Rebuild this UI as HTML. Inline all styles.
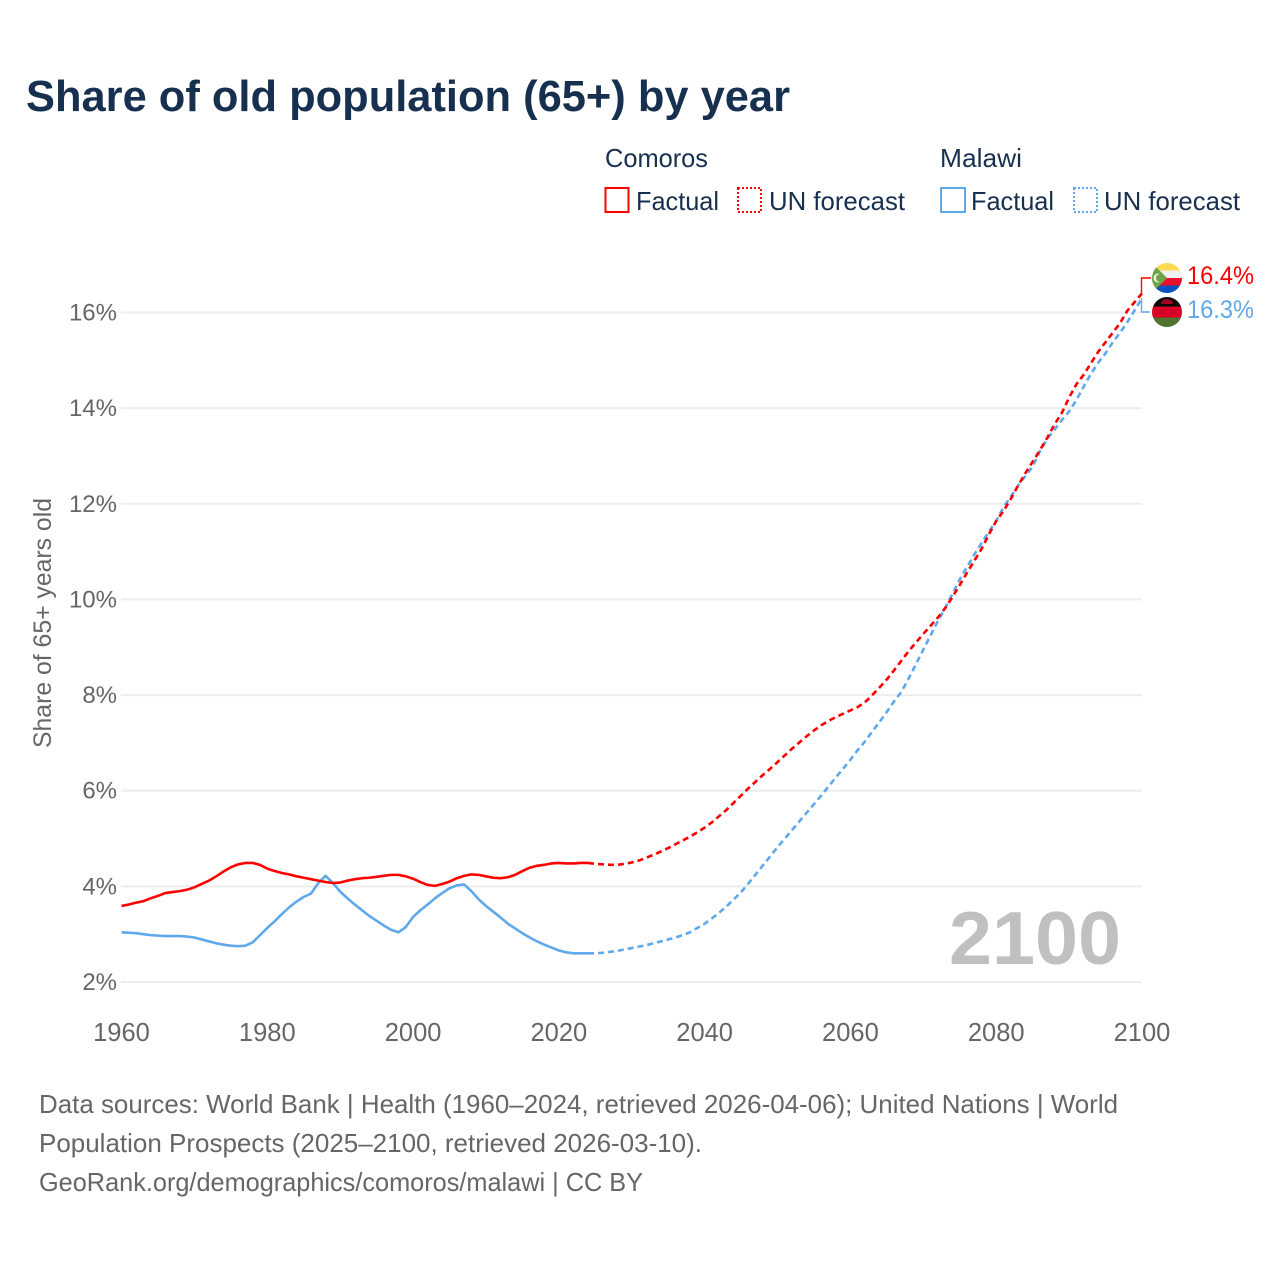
<!DOCTYPE html>
<html lang="en">
<head>
<meta charset="utf-8">
<title>Share of old population (65+) by year</title>
<style>
html,body{margin:0;padding:0;background:#fff;}
svg{display:block;font-family:"Liberation Sans",Arial,sans-serif;}
</style>
</head>
<body>
<svg id="chart" width="1280" height="1280" viewBox="0 0 1280 1280" xmlns="http://www.w3.org/2000/svg">
<rect x="0" y="0" width="1280" height="1280" fill="#fff"/>
<text x="26" y="111" font-size="44" font-weight="700" fill="#18304f" textLength="764" lengthAdjust="spacingAndGlyphs">Share of old population (65+) by year</text>

<g id="grid"></g>
<g id="yticks"></g>
<g id="xticks"></g>

<text transform="translate(51,748) rotate(-90)" font-size="25" fill="#666" textLength="250" lengthAdjust="spacingAndGlyphs">Share of 65+ years old</text>
<text x="949" y="964" font-size="75" font-weight="700" fill="#c0c0c0" textLength="172" lengthAdjust="spacingAndGlyphs">2100</text>

<g id="series"></g>

<g>
<text x="605" y="167" font-size="26" fill="#18304f" textLength="103" lengthAdjust="spacingAndGlyphs">Comoros</text>
<rect x="605.5" y="188" width="23" height="24" fill="none" stroke="#ff0000" stroke-width="2"/>
<text x="636" y="210" font-size="26" fill="#18304f" textLength="83" lengthAdjust="spacingAndGlyphs">Factual</text>
<rect x="738" y="188" width="23" height="24" fill="none" stroke="#ff0000" stroke-width="2" stroke-dasharray="2 2"/>
<text x="769" y="210" font-size="26" fill="#18304f" textLength="136" lengthAdjust="spacingAndGlyphs">UN forecast</text>
<text x="940" y="167" font-size="26" fill="#18304f" textLength="82" lengthAdjust="spacingAndGlyphs">Malawi</text>
<rect x="941" y="188" width="24" height="24" fill="none" stroke="#5fa8ec" stroke-width="2"/>
<text x="971" y="210" font-size="26" fill="#18304f" textLength="83" lengthAdjust="spacingAndGlyphs">Factual</text>
<rect x="1074" y="188" width="23" height="24" fill="none" stroke="#5fa8ec" stroke-width="2" stroke-dasharray="2 2"/>
<text x="1104" y="210" font-size="26" fill="#18304f" textLength="136" lengthAdjust="spacingAndGlyphs">UN forecast</text>
</g>

<defs>
<clipPath id="clip-km"><circle cx="1167" cy="278" r="15"/></clipPath>
<clipPath id="clip-mw"><circle cx="1167" cy="312" r="15"/></clipPath>
</defs>
<g clip-path="url(#clip-km)">
<rect x="1152" y="263" width="30" height="8" fill="#ffd94f"/>
<rect x="1152" y="270.5" width="30" height="7.5" fill="#f0f0f0"/>
<rect x="1152" y="278" width="30" height="7.5" fill="#e8112d"/>
<rect x="1152" y="285.5" width="30" height="7.5" fill="#0b52c0"/>
<polygon points="1152,263 1167,278 1152,293" fill="#6da544"/>
<circle cx="1158" cy="278" r="4.5" fill="#f0f0f0"/>
<circle cx="1160" cy="278" r="4" fill="#6da544"/>
</g>
<g clip-path="url(#clip-mw)">
<rect x="1152" y="297" width="30" height="9.5" fill="#0a0a0a"/>
<rect x="1152" y="306.5" width="30" height="11" fill="#d80027"/>
<rect x="1152" y="317.5" width="30" height="10" fill="#4f7331"/>
<path d="M1161,304 a6,5 0 0 1 12,0 z" fill="#a2001d"/>
</g>
<path d="M1141.5,293 V278 H1151" fill="none" stroke="#ff0000" stroke-width="1.4"/>
<path d="M1141.5,298 V312 H1150" fill="none" stroke="#5fa8ec" stroke-width="1.4"/>
<text x="1187" y="284" font-size="25" fill="#ff0000" textLength="67" lengthAdjust="spacingAndGlyphs">16.4%</text>
<text x="1187" y="318" font-size="25" fill="#5fa8ec" textLength="67" lengthAdjust="spacingAndGlyphs">16.3%</text>

<g>
<text x="39" y="1113" font-size="26" fill="#666" textLength="1079" lengthAdjust="spacingAndGlyphs">Data sources: World Bank | Health (1960–2024, retrieved 2026-04-06); United Nations | World</text>
<text x="39" y="1152" font-size="26" fill="#666" textLength="663" lengthAdjust="spacingAndGlyphs">Population Prospects (2025–2100, retrieved 2026-03-10).</text>
<text x="39" y="1191" font-size="26" fill="#666" textLength="604" lengthAdjust="spacingAndGlyphs">GeoRank.org/demographics/comoros/malawi | CC BY</text>
</g>
</svg>

<script>
const factualStartYear = 1960;
const forecastStartYear = 2024;
const xTickYears = [1960, 1980, 2000, 2020, 2040, 2060, 2080, 2100];
const yTickValues = [2, 4, 6, 8, 10, 12, 14, 16];

const comorosFactual = [3.59,3.62,3.66,3.69,3.75,3.80,3.86,3.88,3.90,3.93,3.98,4.05,4.12,4.21,4.31,4.40,4.46,4.49,4.49,4.45,4.37,4.32,4.28,4.25,4.21,4.18,4.15,4.12,4.09,4.07,4.08,4.12,4.15,4.17,4.18,4.20,4.22,4.24,4.24,4.21,4.16,4.09,4.03,4.01,4.05,4.10,4.17,4.22,4.25,4.24,4.21,4.18,4.17,4.19,4.24,4.32,4.39,4.43,4.45,4.48,4.49,4.48,4.48,4.49,4.49];
const malawiFactual = [3.04,3.03,3.02,3.00,2.98,2.97,2.96,2.96,2.96,2.95,2.93,2.89,2.85,2.81,2.78,2.76,2.75,2.76,2.83,2.98,3.13,3.27,3.42,3.56,3.68,3.78,3.85,4.07,4.22,4.07,3.89,3.75,3.62,3.50,3.38,3.28,3.18,3.09,3.04,3.15,3.36,3.50,3.62,3.75,3.86,3.96,4.02,4.04,3.90,3.73,3.59,3.47,3.35,3.22,3.12,3.02,2.93,2.85,2.78,2.72,2.66,2.62,2.60,2.60,2.60];
const comorosForecast = [4.49,4.47,4.46,4.45,4.45,4.47,4.50,4.54,4.60,4.66,4.73,4.80,4.88,4.96,5.04,5.13,5.23,5.34,5.47,5.60,5.75,5.90,6.05,6.19,6.33,6.46,6.60,6.74,6.88,7.01,7.14,7.26,7.37,7.46,7.54,7.61,7.68,7.75,7.85,8.00,8.16,8.33,8.52,8.72,8.92,9.10,9.28,9.45,9.62,9.82,10.05,10.30,10.56,10.81,11.06,11.36,11.64,11.85,12.10,12.38,12.64,12.88,13.12,13.38,13.66,13.90,14.22,14.50,14.70,14.94,15.18,15.38,15.58,15.78,16.04,16.22,16.40];
const malawiForecast = [2.60,2.60,2.61,2.63,2.65,2.68,2.71,2.74,2.77,2.81,2.85,2.89,2.93,2.98,3.04,3.13,3.22,3.33,3.45,3.58,3.73,3.88,4.06,4.25,4.44,4.63,4.82,5.00,5.18,5.36,5.54,5.72,5.90,6.09,6.28,6.46,6.65,6.85,7.03,7.24,7.44,7.65,7.87,8.07,8.35,8.65,8.95,9.25,9.55,9.82,10.12,10.42,10.68,10.94,11.18,11.42,11.64,11.93,12.15,12.38,12.58,12.78,13.10,13.36,13.55,13.75,13.93,14.17,14.45,14.72,14.95,15.15,15.38,15.58,15.80,16.05,16.30];

const NS = 'http://www.w3.org/2000/svg';
function xScale(year) { return 121.5 + (year - 1960) * (1142 - 121.5) / 140; }
function yScale(value) { return 982 - (value - 2) * (982 - 312.5) / 14; }

const gridGroup = document.getElementById('grid');
const yTickGroup = document.getElementById('yticks');
const xTickGroup = document.getElementById('xticks');
const seriesGroup = document.getElementById('series');

yTickValues.forEach(function (v) {
  const line = document.createElementNS(NS, 'line');
  
  
  line.setAttribute('x1', 121);
  line.setAttribute('x2', 1142);
  line.setAttribute('y1', yScale(v));
  line.setAttribute('y2', yScale(v));
  line.setAttribute('stroke', '#eeeeee');
  line.setAttribute('stroke-width', 2);
  gridGroup.appendChild(line);

  const label = document.createElementNS(NS, 'text');
  
  
  label.setAttribute('x', 117);
  label.setAttribute('y', yScale(v) + 8);
  label.setAttribute('text-anchor', 'end');
  label.setAttribute('font-size', 24);
  label.setAttribute('fill', '#666');
  label.textContent = v + '%';
  yTickGroup.appendChild(label);
});

xTickYears.forEach(function (year) {
  const label = document.createElementNS(NS, 'text');
  
  
  label.setAttribute('x', xScale(year));
  label.setAttribute('y', 1041);
  label.setAttribute('text-anchor', 'middle');
  label.setAttribute('font-size', 25.5);
  label.setAttribute('fill', '#666');
  label.textContent = year;
  xTickGroup.appendChild(label);
});

function linePath(values, startYear) {
  return values.map(function (v, i) {
    return (i ? 'L' : 'M') + xScale(startYear + i).toFixed(2) + ',' + yScale(v).toFixed(2);
  }).join(' ');
}

function drawLine(name, values, startYear, color, dashed) {
  const path = document.createElementNS(NS, 'path');
  
  
  path.setAttribute('d', linePath(values, startYear));
  path.setAttribute('fill', 'none');
  path.setAttribute('stroke', color);
  path.setAttribute('stroke-width', 2.6);
  path.setAttribute('stroke-linejoin', 'round');
  if (dashed) {
    path.setAttribute('stroke-dasharray', '6 4');
  }
  seriesGroup.appendChild(path);
}

drawLine('line-malawi-factual', malawiFactual, factualStartYear, '#5fa8ec', false);
drawLine('line-malawi-forecast', malawiForecast, forecastStartYear, '#5fa8ec', true);
drawLine('line-comoros-factual', comorosFactual, factualStartYear, '#ff0000', false);
drawLine('line-comoros-forecast', comorosForecast, forecastStartYear, '#ff0000', true);
</script>
</body>
</html>
